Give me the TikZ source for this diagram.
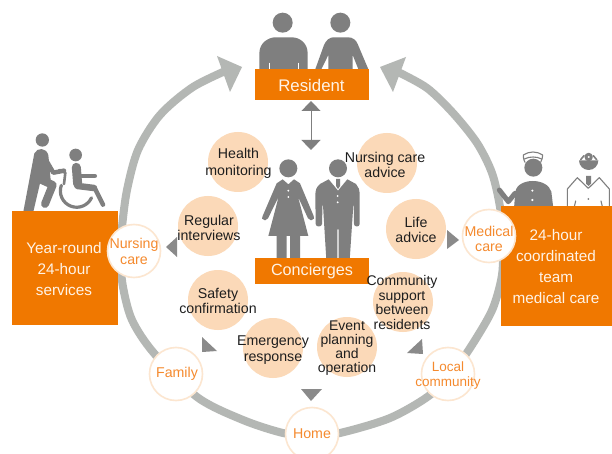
\documentclass[tikz,border=0pt]{standalone}
\usepackage{fontspec}
\setmainfont{Liberation Sans}
\usetikzlibrary{arrows.meta}
\definecolor{orbox}{HTML}{F07800}
\definecolor{peach}{HTML}{FBD9B8}
\definecolor{ringgray}{HTML}{B4B7B4}
\definecolor{figgray}{HTML}{7F7F7F}
\definecolor{triangray}{HTML}{8A8A8A}
\definecolor{ortext}{HTML}{F58A2E}
\definecolor{whitering}{HTML}{FCE6D0}
\definecolor{inktext}{HTML}{1E1E1E}
\definecolor{boxtext}{HTML}{FFF3E6}
\tikzset{
  orangebox/.style={fill=orbox,draw=none,inner sep=0pt,anchor=north west},
  boxlabel/.style={text=boxtext,align=center,inner sep=0pt,font=\fontsize{15.3}{21}\selectfont},
  peachdisc/.style={circle,fill=peach,draw=none,minimum size=60pt,inner sep=0pt},
  inklabel/.style={text=inktext,align=center,inner sep=0pt,font=\fontsize{14.2}{15.5}\selectfont},
  whitedisc/.style={circle,fill=white,draw=whitering,line width=1.6pt,minimum size=53pt,inner sep=0pt},
  orlabel/.style={text=ortext,align=center,inner sep=0pt,font=\fontsize{14.2}{15.8}\selectfont},
  fig/.style={fill=figgray,draw=none},
  figline/.style={draw=figgray,line cap=round,line join=round},
  cut/.style={draw=white,line width=0.8pt},
  ringline/.style={draw=ringgray,line width=8pt},
  ringhead/.style={fill=ringgray,draw=none},
  tri/.style={fill=triangray,draw=none},
  zoomed/.style={x=0.33333pt,y=-0.33333pt}
}
\begin{document}
\begin{tikzpicture}[x=1pt,y=-1pt]
\useasboundingbox (0,0) rectangle (612,454);
\fill[white] (0,0) rectangle (612,454);

% ring
\draw[ringline] plot[smooth] coordinates {(312,436) (283,433) (243,420) (197,397) (153,352) (132,320) (123,287) (120,255) (122,227) (127,190) (138,150) (160,115) (193,87) (232,68)};
\draw[ringline] plot[smooth] coordinates {(312,436) (340,433) (390,418) (430,395) (456,368) (477,337) (493,308) (502,275) (503,240) (500,207) (492,173) (477,143) (453,113) (427,88) (398,72)};
\fill[ringhead] (217,56) -- (242,67) -- (230,92) -- cycle;
\fill[ringhead] (380,67) -- (406,57) -- (393,92) -- cycle;

% residents figures
\begin{scope}[shift={(220,0)},zoomed]
  \fill[fig] (188,68) circle[radius=30];
  \fill[fig] (361,68) circle[radius=30];
  \fill[fig] (118,210) -- (118,160) .. controls (118,125) and (150,112) .. (165,112) -- (215,112) .. controls (240,112) and (263,130) .. (263,160) -- (263,210) -- cycle;
  \draw[cut] (148,188) -- (148,207) (235,188) -- (235,207);
  \fill[fig] (285,210) -- (312,135) .. controls (318,120) and (330,112) .. (340,112) -- (385,112) .. controls (398,112) and (408,120) .. (413,132) -- (446,210) -- (416,210) -- (398,165) -- (398,210) -- (325,210) -- (325,165) -- (303,210) -- cycle;
\end{scope}

% concierge figures
\begin{scope}[shift={(250,150)},zoomed]
  \fill[fig] (115,55) circle[radius=27];
  \fill[fig] (264,55) circle[radius=27];
  % woman
  \fill[fig] (98,88) -- (115,103) -- (132,88) -- (150,100) -- (191,198) -- (192,206) -- (183,211) -- (174,205) -- (144,140) -- (175,258) -- (150,258) -- (150,330) -- (120,330) -- (120,258) -- (110,258) -- (110,330) -- (80,330) -- (80,258) -- (55,258) -- (86,140) -- (54,205) -- (45,211) -- (36,206) -- (38,198) -- (80,100) -- cycle;
  \fill[white] (115,122) circle[radius=3.2] (115,141) circle[radius=3.2];
  % man
  \fill[fig] (236,88) -- (264,122) -- (292,88) -- (318,102) .. controls (326,110) and (329,120) .. (329,135) -- (329,222) .. controls (329,232) and (312,232) .. (312,222) -- (311,150) -- (299,330) -- (266,330) -- (266,238) -- (262,238) -- (262,330) -- (229,330) -- (218,150) -- (216,222) .. controls (216,232) and (197,232) .. (197,222) -- (196,135) .. controls (196,120) and (200,110) .. (210,102) -- cycle;
  \fill[fig] (258,87) -- (270,87) -- (270,108) -- (264,117) -- (258,108) -- cycle;
  \fill[white] (263,138) circle[radius=3.2] (263,157) circle[radius=3.2];
\end{scope}

% wheelchair figures
\begin{scope}[shift={(0,120)},zoomed]
  \fill[fig] (127,60) circle[radius=20];
  \fill[fig] (227,105) circle[radius=19];
  \fill[fig] (103,100) .. controls (112,82) and (138,82) .. (145,105) -- (152,180) -- (120,190) -- (100,275) -- (70,275) -- cycle;
  \draw[figline,line width=4.5pt] (132,110) -- (160,158) -- (192,152);
  \draw[figline,line width=8pt] (125,180) -- (158,195) -- (135,252);
  \draw[figline,line width=2.6pt] (178,150) -- (196,158) -- (192,192);
  \draw[figline,line width=3.2pt] (184,196) arc[start angle=200,end angle=25,radius=49];
  \draw[figline,line width=9pt] (229,142) -- (233,192);
  \draw[figline,line width=6.5pt] (233,198) -- (282,204);
  \draw[figline,line width=4.5pt] (284,204) -- (309,254);
  \draw[figline,line width=4.8pt] (238,168) -- (284,168);
\end{scope}

% medical figures
\begin{scope}[shift={(490,145)},zoomed]
  \draw[figline,line width=1.1pt] (105,52) .. controls (100,42) and (100,36) .. (100,30) .. controls (118,18) and (140,18) .. (158,30) .. controls (158,36) and (156,44) .. (152,52);
  \draw[figline,line width=1.1pt] (103,42) .. controls (118,34) and (140,34) .. (155,42);
  \fill[fig] (130,68) circle[radius=27];
  \fill[fig] (72,190) -- (76,140) .. controls (80,118) and (105,108) .. (128,108) .. controls (155,108) and (178,120) .. (184,140) -- (190,190) -- cycle;
  \draw[figline,line width=5pt] (28,135) -- (55,170) -- (75,145);
  \fill[white] (127,137) circle[radius=3.5] (127,165) circle[radius=3.5];
  \fill[fig] (267,46) -- (325,46) arc[start angle=0,end angle=180,radius=29] -- cycle;
  \draw[figline,line width=1.6pt] (272,44) -- (282,32) (320,44) -- (310,32);
  \draw[figline,line width=3pt,fill=white] (296,36) circle[radius=8];
  \draw[figline,line width=1.1pt] (232,190) -- (232,132) -- (262,98) -- (295,130) -- (328,98) -- (358,132) -- (358,190);
  \fill[fig] (288,93) -- (303,93) -- (303,116) -- (296,123) -- (288,116) -- cycle;
  \draw[figline,line width=1.1pt] (253,185) -- (257,168) (337,185) -- (333,168);
  \fill[fig] (295,162) circle[radius=3];
\end{scope}

% boxes
\path[fill=orbox] (12,211) rectangle (118,325);
\path[fill=orbox] (501,206) rectangle (612,326);
\node[orangebox,minimum width=114pt,minimum height=31pt] (resident) at (255,69) {};
\node[orangebox,minimum width=114pt,minimum height=26pt] (concierges) at (255,258) {};
\node[text=boxtext,inner sep=0pt,font=\fontsize{16.8}{20}\selectfont] at (311.5,85) {Resident};
\node[text=boxtext,inner sep=0pt,font=\fontsize{16.2}{20}\selectfont] at (312,271.5) {Concierges};
\node[boxlabel] (yearround) at (64,269) {Year-round\\24-hour\\services};
\node[boxlabel] (teamcare) at (556,266.5) {24-hour\\coordinated\\team\\medical care};

% double arrow
\coordinate (arrowtop) at (311,101);
\coordinate (arrowbot) at (311,150);
\draw[draw=figgray,line width=1pt,{Triangle[length=10pt,width=19pt,fill=figgray]}-{Triangle[length=10pt,width=19pt,fill=figgray]}] (arrowtop) -- (arrowbot);

% small triangles
\fill[tri] (166,247) -- (177,237) -- (177,257) -- cycle;
\fill[tri] (447,230) -- (447,249) -- (459,240) -- cycle;
\fill[tri] (301,389) -- (322,389) -- (311,401) -- cycle;
\fill[tri] (202,337) -- (202,352) -- (217,351) -- cycle;
\fill[tri] (422,339) -- (423,354) -- (407,353) -- cycle;

% peach discs
\node[peachdisc] (health) at (238,162) {};
\node[peachdisc] (regular) at (208,226) {};
\node[peachdisc] (nursadv) at (387,163) {};
\node[peachdisc] (life) at (416,229) {};
\node[peachdisc] (community) at (403,302) {};
\node[peachdisc] (event) at (347,347) {};
\node[peachdisc] (emergency) at (273,348) {};
\node[peachdisc] (safety) at (218,300) {};
\node[inklabel,font=\fontsize{14.2}{17}\selectfont] at (238.5,163.5) {Health\\monitoring};
\node[inklabel] at (209,228) {Regular\\interviews};
\node[inklabel] at (385,165) {Nursing care\\advice};
\node[inklabel] at (416,230) {Life\\advice};
\node[inklabel,font=\fontsize{14}{14.7}\selectfont] at (402,302.5) {Community\\support\\between\\residents};
\node[inklabel,font=\fontsize{14}{14.2}\selectfont] at (347,348) {Event\\planning\\and\\operation};
\node[inklabel] at (273,350) {Emergency\\response};
\node[inklabel] at (218,301) {Safety\\confirmation};

% white discs
\node[whitedisc] (nursing) at (134,251) {};
\node[whitedisc] (medical) at (489,236) {};
\node[whitedisc] (family) at (176,374) {};
\node[whitedisc] (home) at (312,434) {};
\node[whitedisc] (local) at (448,374) {};
\node[orlabel] at (134,251.5) {Nursing\\care};
\node[orlabel] at (489,239) {Medical\\care};
\node[orlabel] at (177,374) {Family};
\node[orlabel] at (312,434) {Home};
\node[orlabel,font=\fontsize{13.5}{15.5}\selectfont] at (448,375.5) {Local\\community};
\end{tikzpicture}
\end{document}
